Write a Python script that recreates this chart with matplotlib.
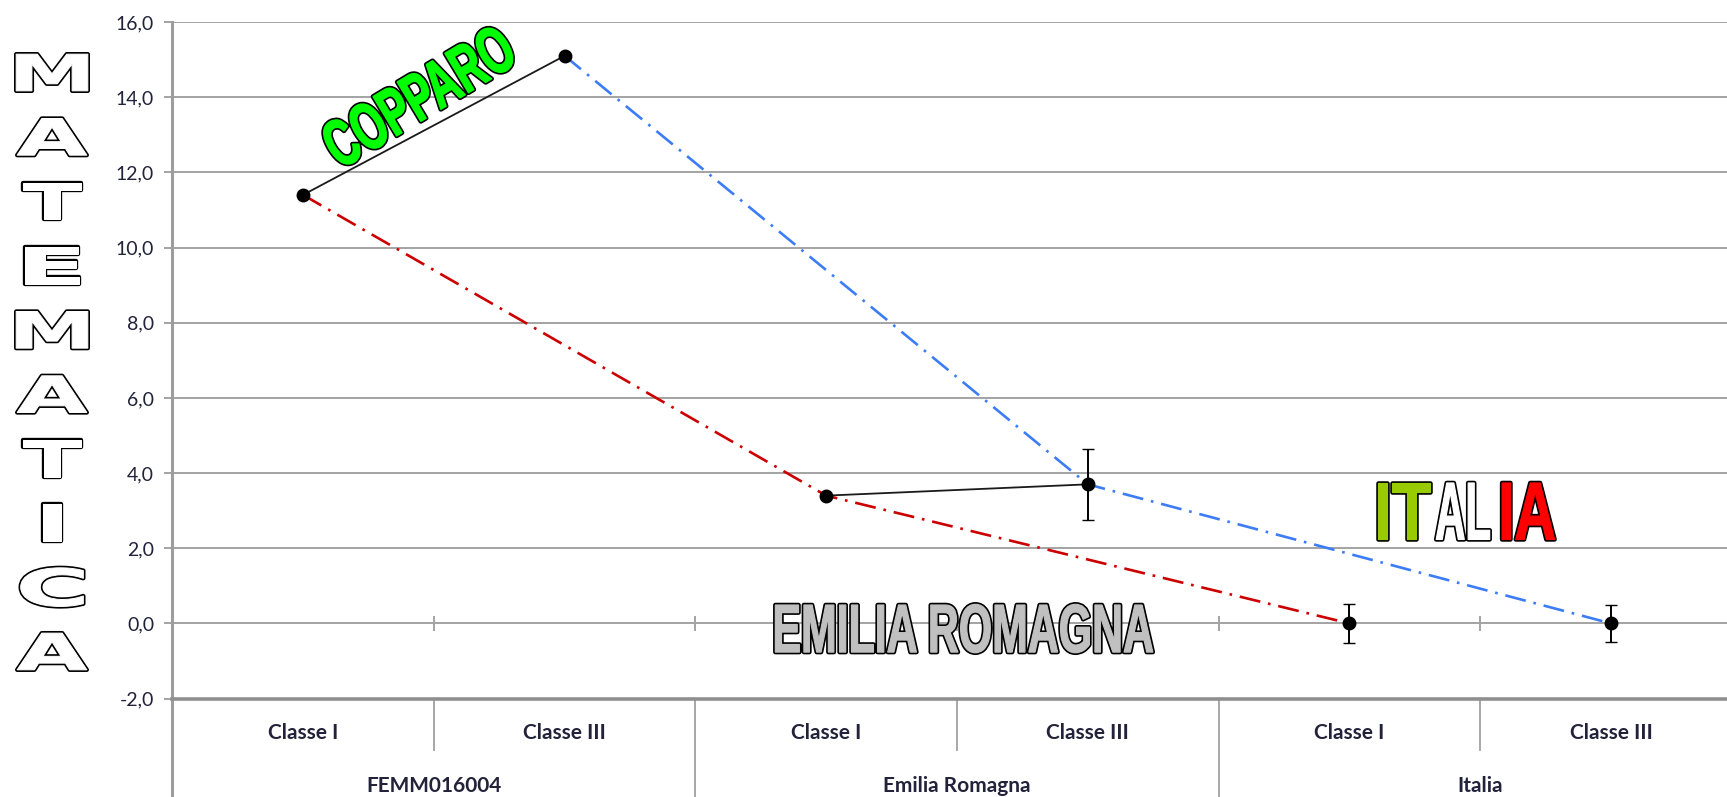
import matplotlib
matplotlib.use("Agg")
import matplotlib.pyplot as plt
import matplotlib.patheffects as pe
from matplotlib.transforms import Affine2D
import numpy as np

plt.rcParams['font.family'] = ['Lato', 'DejaVu Sans']

# data
categories = ["Classe I", "Classe III", "Classe I", "Classe III", "Classe I", "Classe III"]
groups = ["FEMM016004", "Emilia Romagna", "Italia"]
copparo = [11.4, 15.1]
emilia = [3.4, 3.7]
italia = [0.0, 0.0]
err_emilia = [0.0, 0.95]
err_italia = [0.53, 0.5]
yticks = np.arange(-2, 17, 2)


class FitText(pe.AbstractPathEffect):
    # stretch the glyphs to a w x h pixel box centred on xy (wordart look),
    # optionally thickened by `bold` pixels, with a black outline
    def __init__(self, xy, w, h, trans, angle=0, lw=1.5, bold=0.0, edge='black'):
        super().__init__()
        self.xy, self.w, self.h, self.trans = xy, w, h, trans
        self.angle, self.lw, self.bold, self.edge = angle, lw, bold, edge

    def draw_path(self, renderer, gc, tpath, affine, rgbFace=None):
        ext = tpath.get_extents(affine)
        tx, ty = self.trans.transform(self.xy)
        px = renderer.points_to_pixels(1.0)
        grow = self.bold + 2 * self.lw * px
        t = affine + Affine2D().translate(-(ext.x0 + ext.x1) / 2, -(ext.y0 + ext.y1) / 2) \
            .scale((self.w - grow) / ext.width, (self.h - grow) / ext.height) \
            .rotate_deg(self.angle).translate(tx, ty)
        gc0 = renderer.new_gc()
        gc0.copy_properties(gc)
        gc0.set_foreground(self.edge)
        gc0.set_linewidth(self.bold / px + 2 * self.lw)
        renderer.draw_path(gc0, tpath, t, None)
        gc0.restore()
        gc1 = renderer.new_gc()
        gc1.copy_properties(gc)
        gc1.set_foreground(rgbFace)
        gc1.set_linewidth(self.bold / px)
        renderer.draw_path(gc1, tpath, t, rgbFace)
        gc1.restore()


W, H = 1727, 797
fig = plt.figure(figsize=(W / 100, H / 100), dpi=100)
ax = fig.add_axes([172.2 / W, (H - 698.6) / H, (W - 172.2) / W, (698.6 - 22) / H])
ax.set_xlim(-0.5, 5.4434)
ax.set_ylim(-2, 16)

ax.set_yticks(yticks)
ax.set_yticklabels([f"{v:.1f}".replace('.', ',') for v in yticks])
ax.yaxis.grid(True, color='#a3a3a3', lw=1.4)
ax.set_axisbelow(True)
ax.set_xticks([])
for s in ['top', 'right']:
    ax.spines[s].set_visible(False)
ax.spines['left'].set_color('#9d9d9d')
ax.spines['left'].set_linewidth(2.2)
ax.spines['bottom'].set_color('#8f8f8f')
ax.spines['bottom'].set_linewidth(2.6)
ax.tick_params(axis='y', length=6, width=1.3, color='#9d9d9d', pad=7,
               labelsize=14, labelcolor='#22223a')

# category separators below the plot
ax.plot([-0.5, -0.5], [-2, -4.7], color='#9d9d9d', lw=2.2, clip_on=False)
for xb in [1.5, 3.5]:
    ax.plot([xb, xb], [-2, -4.7], color='#a0a0a0', lw=1.3, clip_on=False)
for xb in [0.5, 2.5, 4.5]:
    ax.plot([xb, xb], [-2, -3.37], color='#a0a0a0', lw=1.3, clip_on=False)
ax.vlines([0.5, 1.5, 2.5, 3.5, 4.5], -0.19, 0.19, color='#a3a3a3', lw=1.4)

for i, c in enumerate(categories):
    ax.text(i, -2.915, c, ha='center', va='center', fontsize=15,
            fontweight='bold', color='#22223a')
for i, g in enumerate(groups):
    ax.text(2 * i + 0.5, -4.33, g, ha='center', va='center', fontsize=15,
            fontweight='bold', color='#22223a')

# lines
ax.plot([0, 1], copparo, color='#1a1a1a', lw=1.3, zorder=3)
ax.plot([2, 3], emilia, color='#1a1a1a', lw=1.3, zorder=3)
ax.plot([0, 2, 4], [copparo[0], emilia[0], italia[0]], color='#CC0000', lw=1.9,
        ls=(0, (8, 3, 1, 3)), zorder=3)
ax.plot([1, 3, 5], [copparo[1], emilia[1], italia[1]], color='#3C7CF5', lw=1.9,
        ls=(0, (8, 3, 1, 3)), zorder=3)

ax.errorbar(range(6), copparo + emilia + italia, yerr=[0, 0] + err_emilia + err_italia,
            fmt='o', color='black', ms=9, capsize=4, elinewidth=1.4, zorder=5)

# wordart labels
def wordart(x, y, s, w, h, fill, trans, angle=0, lw=1.5, bold=0.0, fs=40,
            family='Liberation Sans'):
    t = fig.text(x, y, s, transform=trans, ha='center', va='center', color=fill,
                 fontsize=fs, fontweight='bold', family=family)
    t.set_path_effects([FitText((x, y), w, h, trans, angle=angle, lw=lw, bold=bold)])
    return t

wordart(0.441, 14.03, "COPPARO", 212, 52, '#00FF00', ax.transData, angle=31, lw=1.2, bold=1.5)
wordart(2.527, -0.136, "EMILIA ROMAGNA", 382, 53, '#C0C0C0', ax.transData, lw=1.2, bold=1.2)
wordart(4.209, 2.985, "IT", 57, 61, '#99CC00', ax.transData, lw=1.2, bold=1.2)
wordart(4.434, 2.985, "AL", 58, 61, 'white', ax.transData, lw=1.2, bold=1.2)
wordart(4.684, 2.985, "IA", 57, 61, '#FF0000', ax.transData, lw=1.2, bold=1.2)

letters = "MATEMATICA"
widths = {'M': 76, 'A': 74, 'T': 63, 'E': 58, 'I': 22, 'C': 67}
for i, ch in enumerate(letters):
    py = 72.5 + 64.33 * i
    wordart(52 / W, 1 - py / H, ch, widths[ch], 43 if ch == 'C' else 41, 'white',
            fig.transFigure, lw=1.2, bold=1.0, fs=30, family='DejaVu Sans')

fig.savefig("out.png", dpi=100)
